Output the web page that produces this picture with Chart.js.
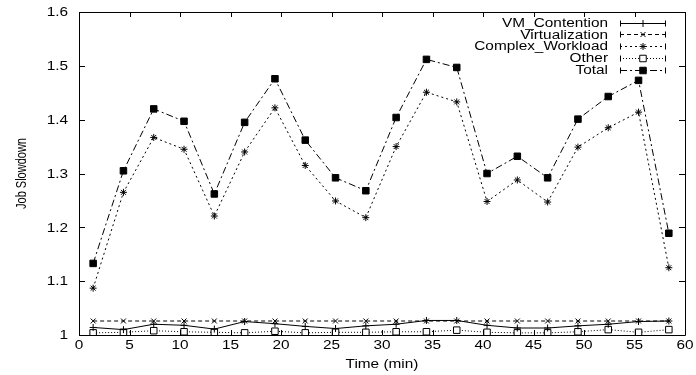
<!DOCTYPE html>
<html>
<head>
<meta charset="utf-8">
<script src="https://cdn.jsdelivr.net/npm/chart.js@4.4.1/dist/chart.umd.min.js"></script>
<style>
  html, body { margin: 0; padding: 0; background: #fff; }
  #wrap { width: 696px; height: 375px; }
</style>
</head>
<body>
<div id="wrap"><canvas id="chartSlowdown" width="696" height="375"></canvas></div>
<script>
// datos
const tiempos = [1.4, 4.4, 7.4, 10.4, 13.4, 16.4, 19.4, 22.4, 25.4, 28.4,
                 31.4, 34.4, 37.4, 40.4, 43.4, 46.4, 49.4, 52.4, 55.4, 58.4];

const vmContention = [1.014, 1.010, 1.020, 1.018, 1.011, 1.025, 1.021, 1.016, 1.012, 1.017,
                      1.020, 1.027, 1.027, 1.018, 1.013, 1.013, 1.017, 1.020, 1.025, 1.026];
const virtualization = [1.026, 1.026, 1.026, 1.026, 1.026, 1.026, 1.026, 1.026, 1.026, 1.026,
                        1.026, 1.026, 1.026, 1.026, 1.026, 1.026, 1.026, 1.026, 1.026, 1.026];
const complexWorkload = [1.087, 1.265, 1.367, 1.345, 1.221, 1.340, 1.422, 1.315, 1.249, 1.218,
                         1.350, 1.451, 1.433, 1.248, 1.288, 1.247, 1.349, 1.385, 1.414, 1.125];
const other = [1.004, 1.005, 1.008, 1.006, 1.005, 1.004, 1.007, 1.004, 1.005, 1.005,
               1.006, 1.006, 1.009, 1.005, 1.004, 1.004, 1.006, 1.010, 1.005, 1.010];
const total = [1.133, 1.305, 1.420, 1.397, 1.262, 1.395, 1.476, 1.362, 1.292, 1.268,
               1.404, 1.512, 1.497, 1.300, 1.332, 1.292, 1.401, 1.443, 1.473, 1.189];

const xTicks = [0, 5, 10, 15, 20, 25, 30, 35, 40, 45, 50, 55, 60];
const yTicks = [1, 1.1, 1.2, 1.3, 1.4, 1.5, 1.6];

const FONT = '"Liberation Sans", Arial, Helvetica, sans-serif';
const ESTIRADO = 1.28;   // el texto del original sale ensanchado

function serie(label, valores, estilo) {
    return Object.assign({
        label: label,
        data: tiempos.map((t, i) => ({ x: t, y: valores[i] })),
        borderColor: '#000',
        backgroundColor: '#000',
        borderWidth: 1,
        pointBorderWidth: 1,
        pointBorderColor: '#000',
        pointBackgroundColor: '#000',
        tension: 0,
        fill: false
    }, estilo);
}

function texto(ctx, str, x, y, align) {
    ctx.save();
    ctx.translate(x, y);
    ctx.scale(ESTIRADO, 1);
    ctx.textAlign = align;
    ctx.fillText(str, 0, 0);
    ctx.restore();
}

// caja, marcas hacia dentro, etiquetas y leyenda (estilo gnuplot)
const marcoPlugin = {
    id: 'marco',
    afterDraw(chart) {
        const ctx = chart.ctx;
        const a = chart.chartArea;
        const sx = chart.scales.x;
        const sy = chart.scales.y;
        ctx.save();
        ctx.strokeStyle = '#000';
        ctx.fillStyle = '#000';
        ctx.lineWidth = 1;
        ctx.setLineDash([]);
        ctx.beginPath();
        ctx.rect(Math.round(a.left) + 0.5, Math.round(a.top) + 0.5,
                 Math.round(a.right - a.left), Math.round(a.bottom - a.top));
        xTicks.forEach(v => {
            const px = Math.round(sx.getPixelForValue(v)) + 0.5;
            ctx.moveTo(px, a.bottom); ctx.lineTo(px, a.bottom - 5);
            ctx.moveTo(px, a.top); ctx.lineTo(px, a.top + 5);
        });
        yTicks.forEach(v => {
            const py = Math.round(sy.getPixelForValue(v)) + 0.5;
            ctx.moveTo(a.left, py); ctx.lineTo(a.left + 6, py);
            ctx.moveTo(a.right, py); ctx.lineTo(a.right - 6, py);
        });
        ctx.stroke();

        // etiquetas de los ejes
        ctx.font = '12px ' + FONT;
        ctx.textBaseline = 'middle';
        yTicks.forEach(v => {
            texto(ctx, String(Number(v.toFixed(1))), a.left - 11, sy.getPixelForValue(v) + 1, 'right');
        });
        xTicks.forEach(v => {
            texto(ctx, String(v), sx.getPixelForValue(v), a.bottom + 11, 'center');
        });
        texto(ctx, 'Time (min)', (a.left + a.right) / 2, a.bottom + 30, 'center');

        ctx.save();
        ctx.font = '11px ' + FONT;
        ctx.translate(22, (a.top + a.bottom) / 2);
        ctx.rotate(-Math.PI / 2);
        ctx.scale(1, ESTIRADO);
        ctx.textAlign = 'center';
        ctx.fillText('Job Slowdown', 0, 0);
        ctx.restore();

        // leyenda
        const textoX = 608, lineaX0 = 620, lineaX1 = 665;
        let filaY = 22.5;
        ctx.font = '12px ' + FONT;
        chart.data.datasets.forEach((ds) => {
            ctx.fillStyle = '#000';
            texto(ctx, ds.label, textoX, filaY + 1, 'right');
            const ly = Math.round(filaY) + 0.5;
            ctx.beginPath();
            ctx.setLineDash(ds.borderDash || []);
            ctx.moveTo(lineaX0, ly);
            ctx.lineTo(lineaX1, ly);
            ctx.stroke();
            ctx.setLineDash([]);
            ctx.beginPath();
            ctx.moveTo(lineaX0 + 0.5, ly - 3);
            ctx.lineTo(lineaX0 + 0.5, ly + 3);
            ctx.moveTo(lineaX1 + 0.5, ly - 3);
            ctx.lineTo(lineaX1 + 0.5, ly + 3);
            ctx.stroke();
            ctx.fillStyle = ds.pointBackgroundColor;
            ctx.strokeStyle = '#000';
            Chart.helpers.drawPoint(ctx, {
                pointStyle: ds.pointStyle,
                radius: ds.pointRadius,
                borderWidth: 1
            }, Math.round((lineaX0 + lineaX1) / 2), ly);
            filaY += 11.8;
        });
        ctx.restore();
    }
};

const ctx = document.getElementById('chartSlowdown');

new Chart(ctx, {
    type: 'line',
    data: {
        datasets: [
            serie('VM_Contention', vmContention, {
                pointStyle: 'cross', pointRadius: 3.5
            }),
            serie('Virtualization', virtualization, {
                borderDash: [4, 3], pointStyle: 'crossRot', pointRadius: 3.5
            }),
            serie('Complex_Workload', complexWorkload, {
                borderDash: [2, 3], pointStyle: 'star', pointRadius: 3.5
            }),
            serie('Other', other, {
                borderDash: [1, 2], pointStyle: 'rect', pointRadius: 4.6,
                pointBackgroundColor: '#fff'
            }),
            serie('Total', total, {
                borderDash: [7, 3, 2, 3], pointStyle: 'rect', pointRadius: 4.6,
                pointBackgroundColor: '#000'
            })
        ]
    },
    options: {
        responsive: false,
        animation: false,
        layout: { padding: { top: 12, right: 11, left: 0, bottom: 0 } },
        plugins: {
            legend: { display: false },
            tooltip: { enabled: false }
        },
        scales: {
            x: {
                type: 'linear',
                min: 0,
                max: 60,
                afterBuildTicks: (scale) => { scale.ticks = xTicks.map(v => ({ value: v })); },
                afterFit: (scale) => { scale.height = 40; },
                grid: { display: false, drawTicks: false },
                border: { display: false },
                ticks: { display: false }
            },
            y: {
                type: 'linear',
                min: 1,
                max: 1.6,
                afterBuildTicks: (scale) => { scale.ticks = yTicks.map(v => ({ value: v })); },
                afterFit: (scale) => { scale.width = 79; },
                grid: { display: false, drawTicks: false },
                border: { display: false },
                ticks: { display: false }
            }
        }
    },
    plugins: [marcoPlugin]
});
</script>
</body>
</html>
